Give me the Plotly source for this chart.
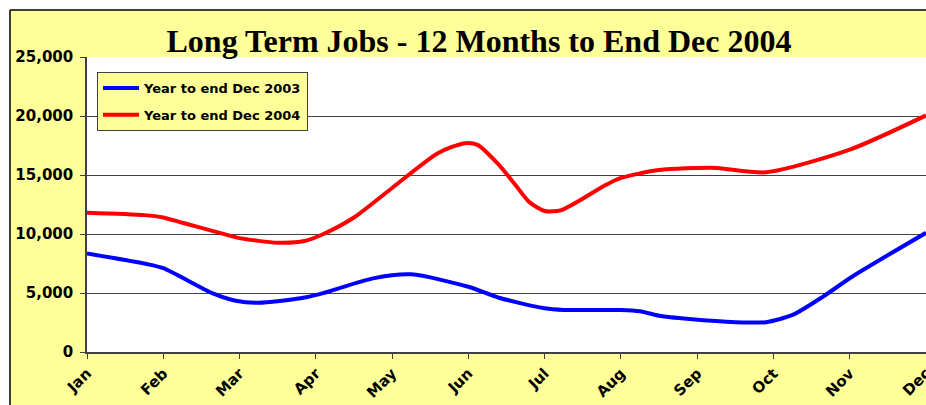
import plotly.graph_objects as go

# -----------------------------------------------------------------------------
# Data (month index: 0 = Jan ... 11 = Dec)
# -----------------------------------------------------------------------------
month_labels = ["Jan", "Feb", "Mar", "Apr", "May", "Jun",
                "Jul", "Aug", "Sep", "Oct", "Nov", "Dec"]

months_2003 = [0.00, 0.78, 1.00, 1.65, 1.95, 2.25, 2.80, 3.05, 3.75, 4.25,
               5.00, 5.40, 6.00, 6.25, 7.00, 7.25, 7.50, 7.90, 8.50, 8.90,
               9.25, 9.65, 10.03, 11.00]
jobs_2003 = [8350, 7460, 7100, 4970, 4350, 4180, 4550, 4900, 6240, 6580,
             5530, 4600, 3700, 3560, 3560, 3450, 3080, 2800, 2530, 2530,
             3140, 4690, 6380, 10100]

months_2004 = [0.00, 0.75, 1.00, 1.25, 1.75, 2.00, 2.50, 2.85, 3.10, 3.50,
               4.00, 4.60, 4.95, 5.12, 5.38, 5.60, 5.80, 6.00, 6.22, 6.80,
               7.00, 7.50, 8.20, 8.90, 10.00, 11.00]
jobs_2004 = [11800, 11600, 11400, 10950, 10080, 9650, 9260, 9400, 10000, 11400,
             13900, 16850, 17700, 17550, 16000, 14300, 12700, 11950, 12030, 14150,
             14750, 15420, 15620, 15230, 17150, 20050]

# -----------------------------------------------------------------------------
# Figure
# -----------------------------------------------------------------------------
YELLOW = "#FFFF99"
LABEL_FONT = dict(family="DejaVu Sans", size=15, color="black", weight="bold")

fig = go.Figure()
fig.add_trace(go.Scatter(
    x=months_2003, y=jobs_2003, mode="lines", name="Year to end Dec 2003",
    line=dict(color="#0000FF", width=4, shape="spline", smoothing=0.7),
    legendgroup="a",
))
fig.add_trace(go.Scatter(
    x=months_2004, y=jobs_2004, mode="lines", name="Year to end Dec 2004",
    line=dict(color="#FF0000", width=4, shape="spline", smoothing=0.7),
    legendgroup="b",
))

# plot area sits at x 87..926, y 57..352 px (the chart runs off the right/bottom)
W, H = 926, 405
L, T, B = 87, 57, 53
PW, PH = W - L, H - T - B
bx = (10 - L) / PW          # chart border, paper coords
by = (H - B - 10) / PH

shapes = [
    dict(type="rect", xref="paper", yref="paper", x0=-1, x1=2, y0=by, y1=3,
         fillcolor="white", line_width=0, layer="below"),
    dict(type="rect", xref="paper", yref="paper", x0=-1, x1=bx, y0=-2, y1=3,
         fillcolor="white", line_width=0, layer="below"),
    dict(type="line", xref="paper", yref="paper", x0=bx, x1=2, y0=by, y1=by,
         line=dict(color="black", width=1.5)),
    dict(type="line", xref="paper", yref="paper", x0=bx, x1=bx, y0=-2, y1=by,
         line=dict(color="black", width=1.5)),
]

fig.update_layout(
    width=W, height=H,
    margin=dict(l=L, r=0, t=T, b=B),
    paper_bgcolor=YELLOW, plot_bgcolor="white",
    shapes=shapes,
    title=dict(
        text="<b>Long Term Jobs - 12 Months to End Dec 2004</b>",
        font=dict(family="Liberation Serif", size=32, color="black"),
        x=479 / W, xanchor="center", xref="container",
        y=1 - 41 / H, yanchor="middle", yref="container",
    ),
    legend=dict(
        x=(97 - L) / PW, y=(H - B - 72) / PH, xanchor="left", yanchor="top",
        bgcolor=YELLOW, bordercolor="#404040", borderwidth=1,
        font=dict(family="DejaVu Sans", size=13, color="black", weight="bold"),
        tracegroupgap=7, itemwidth=36,
    ),
    showlegend=True,
)
fig.update_xaxes(
    range=[0, 11], tickvals=list(range(12)), ticktext=month_labels,
    tickangle=-45, tickfont=LABEL_FONT, showgrid=False, zeroline=False,
    showline=True, linecolor="#404040", linewidth=1.5,
    ticks="outside", ticklen=5, tickcolor="#404040", automargin=False,
    ticklabeloverflow="allow",
)
fig.update_yaxes(
    range=[0, 25000], dtick=5000, tickformat=",", tickfont=LABEL_FONT,
    showgrid=True, gridcolor="#404040", gridwidth=1, zeroline=False,
    showline=True, linecolor="#404040", linewidth=1.5,
    ticks="outside", ticklen=5, tickcolor="#404040", automargin=False,
    ticklabelstandoff=4,
)

# drop the page's default 8px body margin so the figure fills the window
fig.write_html(
    "out.html",
    config={"displayModeBar": False},
    post_script="document.body.style.margin = '0';",
)
